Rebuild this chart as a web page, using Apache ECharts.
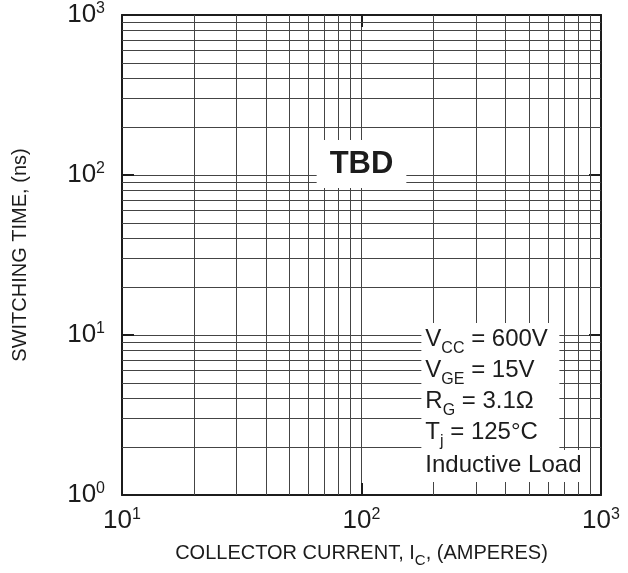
<!DOCTYPE html>
<html><head><meta charset="utf-8">
<script src="https://cdn.jsdelivr.net/npm/echarts@6/dist/echarts.min.js"></script>
<style>html,body{margin:0;padding:0;background:#fff}#c{width:628px;height:573px}</style>
</head><body><div id="c"></div>
<script>
// ---- data ----
const xExtent = [10, 1000];           // collector current (A)
const yExtent = [1, 1000];            // switching time (ns)
const xMinorGrid = [20, 30, 40, 50, 60, 70, 80, 90, 200, 300, 400, 500, 600, 700, 800, 900];
const yMinorGrid = [2, 3, 4, 5, 6, 7, 8, 9, 20, 30, 40, 50, 60, 70, 80, 90, 200, 300, 400, 500, 600, 700, 800, 900];
const xTitle = 'COLLECTOR CURRENT, I{sub|C}, (AMPERES)';
const yTitle = 'SWITCHING TIME, (ns)';
const tbdText = 'TBD';
const tbdAnchor = [100, 117];
const conditionLines = ['{t|V}{sub|CC}{t| = 600V}', '{t|V}{sub|GE}{t| = 15V}', '{t|R}{sub|G}{t| = 3.1Ω}', '{t|T}{sub|j}{t| = 125°C}'];
const conditionAnchor = [177.8, 11.9];
const loadText = 'Inductive Load';
const loadAnchor = [177.8, 1.91];

const FONT = '"Liberation Sans", Arial, Helvetica, sans-serif';
const INK = '#1c1c1c';
const GRID = '#444';

const expLabel = v => '{b|10}{s|' + Math.round(Math.log10(v)) + '}';
const tickRich = {
  b: { fontSize: 26, lineHeight: 28, color: INK, fontFamily: FONT },
  s: { fontSize: 16, lineHeight: 21, verticalAlign: 'top', color: INK, fontFamily: FONT }
};
const axisLineStyle = { show: true, lineStyle: { color: INK, width: 2 } };
const tickStyle = { show: true, inside: true, length: 12, lineStyle: { color: INK, width: 2 } };

const chart = echarts.init(document.getElementById('c'), null, { renderer: 'canvas' });
chart.setOption({
  animation: false,
  backgroundColor: '#fff',
  grid: { left: 122, right: 27, top: 15, bottom: 78, containLabel: false, outerBoundsMode: 'none' },
  xAxis: [{
    type: 'log', logBase: 10, min: xExtent[0], max: xExtent[1],
    axisLine: axisLineStyle, axisTick: tickStyle,
    splitLine: { show: true, lineStyle: { color: GRID, width: 1 } },
    axisLabel: { show: true, margin: 12, formatter: expLabel, rich: tickRich, showMinLabel: true, showMaxLabel: true },
    name: xTitle, nameLocation: 'middle', nameGap: 37,
    nameTextStyle: {
      fontSize: 20, color: INK, fontFamily: FONT, lineHeight: 22,
      rich: { sub: { fontSize: 15, lineHeight: 22, padding: [14, 0, 0, 0], color: INK, fontFamily: FONT } }
    }
  }, {
    type: 'log', logBase: 10, min: xExtent[0], max: xExtent[1], position: 'top',
    axisLine: axisLineStyle, axisTick: tickStyle, splitLine: { show: false }, axisLabel: { show: false }
  }],
  yAxis: [{
    type: 'log', logBase: 10, min: yExtent[0], max: yExtent[1],
    axisLine: axisLineStyle, axisTick: tickStyle,
    splitLine: { show: true, lineStyle: { color: GRID, width: 1 } },
    axisLabel: { show: true, margin: 17, formatter: expLabel, rich: tickRich, showMinLabel: true, showMaxLabel: true },
    name: yTitle, nameLocation: 'middle', nameGap: 91, nameRotate: 90,
    nameTextStyle: { fontSize: 20, color: INK, fontFamily: FONT, lineHeight: 22 }
  }, {
    type: 'log', logBase: 10, min: yExtent[0], max: yExtent[1], position: 'right',
    axisLine: axisLineStyle, axisTick: tickStyle, splitLine: { show: false }, axisLabel: { show: false }
  }],
  series: [{
    type: 'line', data: [], z: 1, silent: true,
    markLine: {
      silent: true, symbol: ['none', 'none'], label: { show: false }, animation: false,
      lineStyle: { color: GRID, width: 1, type: 'solid', opacity: 1 },
      emphasis: { disabled: true },
      data: xMinorGrid.map(v => ({ xAxis: v })).concat(yMinorGrid.map(v => ({ yAxis: v })))
    }
  }, {
    type: 'scatter', z: 10, silent: true, symbolSize: 0, itemStyle: { opacity: 1 },
    data: [tbdAnchor],
    label: {
      show: true, position: 'inside', formatter: tbdText, opacity: 1,
      fontSize: 31, fontWeight: 'bold', lineHeight: 31, color: INK, fontFamily: FONT,
      backgroundColor: '#fff', padding: [9, 13, 8, 13]
    }
  }, {
    type: 'scatter', z: 10, silent: true, symbolSize: 0, itemStyle: { opacity: 1 },
    data: [conditionAnchor],
    label: {
      show: true, position: 'inside', align: 'left', verticalAlign: 'top', opacity: 1,
      formatter: conditionLines.join('\n'),
      width: 134, backgroundColor: '#fff', padding: [1, 0, 2, 4],
      rich: {
        t: { fontSize: 24, lineHeight: 31, verticalAlign: 'middle', color: INK, fontFamily: FONT },
        sub: { fontSize: 16, lineHeight: 31, verticalAlign: 'middle', padding: [19, 0, 0, 0], color: INK, fontFamily: FONT }
      }
    }
  }, {
    type: 'scatter', z: 10, silent: true, symbolSize: 0, itemStyle: { opacity: 1 },
    data: [loadAnchor],
    label: {
      show: true, position: 'inside', align: 'left', verticalAlign: 'top', opacity: 1,
      formatter: loadText, fontSize: 24, lineHeight: 31, color: INK, fontFamily: FONT,
      backgroundColor: '#fff', padding: [0, 4, 1, 4]
    }
  }]
});
</script></body></html>
